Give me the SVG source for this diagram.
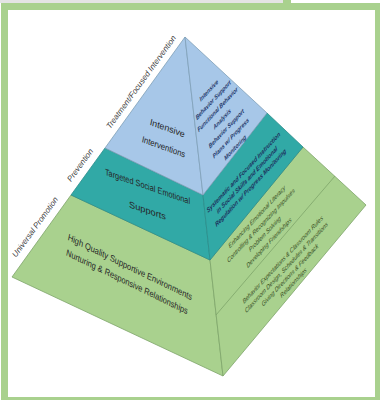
<svg xmlns="http://www.w3.org/2000/svg" width="380" height="400" viewBox="0 0 380 400">
<style>
.blue{fill:#a7c7e8;stroke:#7f9fb8;stroke-width:0.8}
.teal{fill:#31a9a6;stroke:#2b8d8a;stroke-width:0.8}
.green{fill:#a9d18e;stroke:#7ea46a;stroke-width:0.8}
.lt{font-family:"Liberation Sans",Arial,sans-serif;font-size:9px;fill:#262626;text-anchor:middle}
.side{font-family:"Liberation Sans",Arial,sans-serif;font-size:8px;font-style:italic;fill:#404040;text-anchor:middle}
.rb{font-family:"Liberation Sans",Arial,sans-serif;font-size:6px;font-style:italic;font-weight:bold;fill:#24386a;text-anchor:middle}
.rt{font-family:"Liberation Sans",Arial,sans-serif;font-size:6.2px;font-style:italic;font-weight:bold;fill:#1c2f5c;text-anchor:middle}
.rg{font-family:"Liberation Sans",Arial,sans-serif;font-size:6.2px;font-style:italic;fill:#33481c;text-anchor:middle}
</style>
<rect x="0" y="0" width="380" height="400" fill="#ffffff"/>
<rect x="0" y="0" width="283" height="3" fill="#e4e4e4"/>
<rect x="283" y="0" width="8" height="3" fill="#a9d18e"/>
<rect x="4.5" y="6.5" width="374" height="394" fill="#ffffff" stroke="#a9d18e" stroke-width="7"/>

<g id="tier-base">
<polygon class="green" points="71,195 12,277 223,376 210,260"/>
<polygon class="green" points="303,147 366,205 223,376 210,260"/>
</g>
<g id="tier-middle">
<polygon class="teal" points="105,148 71,195 210,260 203,195"/>
<polygon class="teal" points="267,113 303,147 210,260 203,195"/>
</g>
<g id="tier-top">
<polygon class="blue" points="185,37 105,148 203,195"/>
<polygon class="blue" points="185,37 267,113 203,195"/>
</g>
<g id="connectors">
<line x1="335" y1="176" x2="216" y2="315" stroke="#7ea46a" stroke-width="0.8"/>
</g>

<g id="side-labels">
<text class="side" transform="translate(141,82) rotate(-54)" y="2.8">Treatment/Focused Intervention</text>
<text class="side" transform="translate(80,165) rotate(-54)" y="2.8">Prevention</text>
<text class="side" transform="translate(35,227) rotate(-54)" y="2.8">Universal Promotion</text>
</g>

<g id="label-top" transform="matrix(0.94,0.342,-0.2,0.98,165.5,137.5)">
<text class="lt" y="-6.5" textLength="37" lengthAdjust="spacingAndGlyphs">Intensive</text>
<text class="lt" y="12.5" textLength="46" lengthAdjust="spacingAndGlyphs">Interventions</text>
</g>
<g id="label-middle" transform="matrix(0.946,0.326,0,1,147.5,198.5)">
<text class="lt" y="-9" textLength="90" lengthAdjust="spacingAndGlyphs">Targeted Social Emotional</text>
<text class="lt" y="15" textLength="39" lengthAdjust="spacingAndGlyphs">Supports</text>
</g>
<g id="label-base" transform="matrix(0.899,0.438,-0.2,0.98,128.5,274.5)">
<text class="lt" y="-4.5" textLength="138" lengthAdjust="spacingAndGlyphs">High Quality Supportive Environments</text>
<text class="lt" y="10.5" textLength="135" lengthAdjust="spacingAndGlyphs">Nurturing &amp; Responsive Relationships</text>
</g>

<g id="detail-top" transform="matrix(0.682,-0.731,0.42,0.907,222,119)">
<text class="rb" y="-29.5">Intensive</text>
<text class="rb" y="-19">Behavior Support</text>
<text class="rb" y="-8.5">Functional Behavior</text>
<text class="rb" y="2">Analysis</text>
<text class="rb" y="12.5">Behavior Support</text>
<text class="rb" y="23">Plans w/ Progress</text>
<text class="rb" y="33.5">Monitoring</text>
</g>
<g id="detail-middle" transform="matrix(0.682,-0.731,0.42,0.907,247,180)">
<text class="rt" y="-6.5">Systematic and Focused Instruction</text>
<text class="rt" y="2">in Social Skills and Emotional</text>
<text class="rt" y="10.5">Regulation w/ Progress Monitoring</text>
</g>
<g id="detail-base-upper" transform="matrix(0.682,-0.731,0.42,0.907,263,230)">
<text class="rg" y="-12.5">Enhancing Emotional Literacy</text>
<text class="rg" y="-3">Controlling &amp; Recognizing Impulses</text>
<text class="rg" y="6.5">Problem Solving</text>
<text class="rg" y="16">Developing Friendships</text>
</g>
<g id="detail-base-lower" transform="matrix(0.682,-0.731,0.42,0.907,288,271)">
<text class="rg" y="-10.5">Behavior Expectations &amp; Classroom Rules</text>
<text class="rg" y="-2">Classroom Design, Schedules &amp; Transitions</text>
<text class="rg" y="6.5">Giving Directions &amp; Feedback</text>
<text class="rg" y="15">Relationships</text>
</g>
</svg>
